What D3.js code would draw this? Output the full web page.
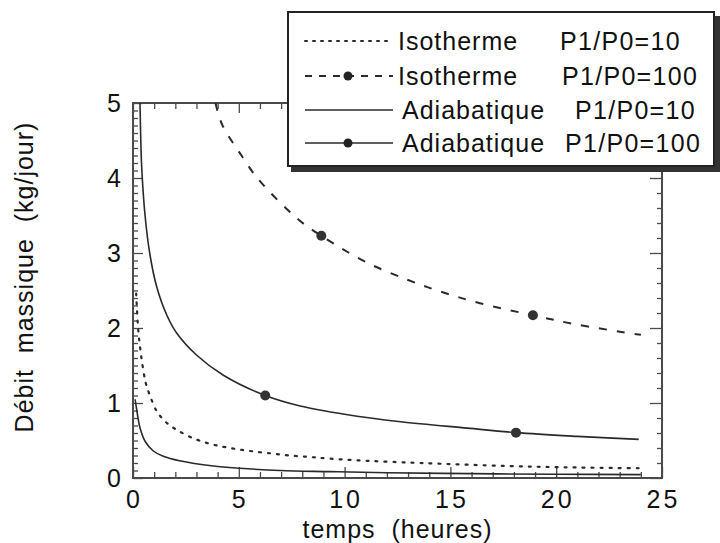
<!DOCTYPE html>
<html><head><meta charset="utf-8">
<script src="https://cdn.jsdelivr.net/npm/d3@7"></script>
<style>
body{margin:0;background:#fff;}
svg text{font-family:"Liberation Sans",Arial,Helvetica,sans-serif;fill:#111;white-space:pre;}
</style></head><body>
<svg id="c" width="720" height="543"></svg>
<script>
// ---- data ----
const xTicks = [0, 5, 10, 15, 20, 25];
const yTicks = [0, 1, 2, 3, 4, 5];
const xTitle = "temps  (heures)";
const yTitle = "Débit  massique  (kg/jour)";

const seriesNames = ["Isotherme", "Isotherme", "Adiabatique", "Adiabatique"];
const seriesRatios = ["P1/P0=10", "P1/P0=100", "P1/P0=10", "P1/P0=100"];

// Isotherme P1/P0=10 (dotted)
const isoP10 = [[0.15,2.46],[0.25,1.97],[0.4,1.6],[0.6,1.27],[0.8,1.1],[1.12,0.89],[1.43,0.78],[1.75,0.7],[2.14,0.63],[2.93,0.52],[3.72,0.45],[4.58,0.4],[5.53,0.36],[6.47,0.33],[7.42,0.3],[8.36,0.28],[9.2,0.26],[11,0.23],[13.6,0.2],[17.7,0.16],[21,0.14],[24,0.13]];
// Isotherme P1/P0=100 (dashed, markers)
const isoP100 = [[3.9,5.0],[4.2,4.72],[5.2,4.27],[5.9,3.99],[7.8,3.45],[8.9,3.23],[11,2.88],[13,2.64],[14.6,2.48],[16.4,2.33],[18.9,2.17],[20.9,2.05],[23.5,1.93],[24,1.91]];
const isoP100Marks = [[8.9,3.23],[18.9,2.17]];
// Adiabatique P1/P0=10 (solid)
const adiP10 = [[0.1,1.05],[0.17,0.92],[0.33,0.67],[0.57,0.49],[0.96,0.36],[1.43,0.29],[2.2,0.23],[3.8,0.16],[5.05,0.13],[6.95,0.1],[9.3,0.085],[12,0.07],[16,0.058],[20,0.05],[24,0.045]];
// Adiabatique P1/P0=100 (solid, markers)
const adiP100 = [[0.33,5.0],[0.36,4.6],[0.41,4.15],[0.57,3.5],[0.8,2.98],[1.12,2.55],[1.6,2.17],[2.07,1.93],[3.0,1.64],[4.27,1.37],[6.25,1.1],[7.9,0.96],[10,0.85],[12.65,0.75],[15.8,0.665],[18.1,0.605],[21,0.555],[23.9,0.515]];
const adiP100Marks = [[6.25,1.1],[18.1,0.605]];

// ---- layout ----
const svg = d3.select("#c");
const L = 133, R = 662, T = 103, B = 478;
const x = d3.scaleLinear().domain([0, 25]).range([L, R]);
const y = d3.scaleLinear().domain([0, 5]).range([B, T]);
const frameColor = "#4a4a4a";
const ink = "#2a2a2a";

svg.append("defs").append("clipPath").attr("id","clip")
  .append("rect").attr("x",L).attr("y",T).attr("width",R-L).attr("height",B-T);

// ticks (inside)
function tickAxis(gen, scale, vals, size, tr){
  const g = svg.append("g").attr("transform", tr)
    .call(gen(scale).tickValues(vals).tickSize(size).tickFormat(""));
  g.select(".domain").remove();
  g.selectAll(".tick line").attr("stroke", frameColor).attr("stroke-width", 1.3);
  return g;
}
const xMinor = d3.range(0, 26, 1).filter(v => v % 5 !== 0);
const yMinor = d3.range(0, 50, 1).map(v => v / 10).filter(v => Math.abs(v - Math.round(v)) > 1e-6);
const yMinorR = d3.range(0, 25, 1).map(v => v / 5).filter(v => Math.abs(v - Math.round(v)) > 1e-6);

tickAxis(d3.axisBottom, x, xMinor, -6, `translate(0,${B})`);
tickAxis(d3.axisBottom, x, xTicks, -11, `translate(0,${B})`);
tickAxis(d3.axisTop, x, xMinor, -6, `translate(0,${T})`);
tickAxis(d3.axisTop, x, xTicks, -10, `translate(0,${T})`);
tickAxis(d3.axisLeft, y, yMinor, -5, `translate(${L},0)`);
tickAxis(d3.axisLeft, y, yTicks, -10, `translate(${L},0)`);
tickAxis(d3.axisRight, y, yMinorR, -5, `translate(${R},0)`);
tickAxis(d3.axisRight, y, yTicks, -12, `translate(${R},0)`);

// frame
svg.append("rect").attr("x",L).attr("y",T).attr("width",R-L).attr("height",B-T)
  .attr("fill","none").attr("stroke",frameColor).attr("stroke-width",2);

// tick labels
svg.append("g").selectAll("text").data(xTicks).join("text")
  .attr("x", d => x(d) + 1.5).attr("y", 508)
  .attr("text-anchor","middle").attr("font-size",25).attr("letter-spacing",3)
  .text(d => d);
svg.append("g").selectAll("text").data(yTicks).join("text")
  .attr("x", 121).attr("y", d => y(d) + 9)
  .attr("text-anchor","end").attr("font-size",25)
  .text(d => d);

// axis titles
svg.append("text").attr("x",(L+R)/2).attr("y",538).attr("text-anchor","middle")
  .attr("font-size",25).attr("letter-spacing",1).text(xTitle);
svg.append("text").attr("transform",`translate(33,${277}) rotate(-90)`).attr("text-anchor","middle")
  .attr("font-size",25).attr("letter-spacing",1).text(yTitle);

// curves
const line = d3.line().x(d => x(d[0])).y(d => y(d[1])).curve(d3.curveCatmullRom.alpha(0.5));
const plot = svg.append("g").attr("clip-path","url(#clip)");
const styles = [
  {data: isoP10, dash: "2,7", w: 2.2, cap: "round"},
  {data: isoP100, dash: "8,10", w: 2, cap: "butt"},
  {data: adiP10, dash: null, w: 1.6, cap: "butt"},
  {data: adiP100, dash: null, w: 1.6, cap: "butt"}
];
styles.forEach(s => {
  plot.append("path").datum(s.data).attr("d", line)
    .attr("fill","none").attr("stroke",ink).attr("stroke-width",s.w)
    .attr("stroke-linecap",s.cap).attr("stroke-dasharray",s.dash);
});
plot.selectAll("circle.m").data(isoP100Marks.concat(adiP100Marks)).join("circle")
  .attr("cx", d => x(d[0])).attr("cy", d => y(d[1])).attr("r", 5).attr("fill","#333");

// legend
const lg = svg.append("g");
lg.append("rect").attr("x",291).attr("y",16).attr("width",429).attr("height",156).attr("fill","#333");
lg.append("rect").attr("x",288).attr("y",12).attr("width",426).attr("height",154)
  .attr("fill","#fff").attr("stroke","#222").attr("stroke-width",2);
const rowsY = [41, 76, 110, 143];
const nameX = [398, 398, 402, 402];
const ratioX = [560, 562, 575, 565];
const legStyles = [
  {dash: "2,6", w: 2, cap: "round", mark: false},
  {dash: "7,7", w: 2, cap: "butt", mark: true},
  {dash: null, w: 1.6, cap: "butt", mark: false},
  {dash: null, w: 1.6, cap: "butt", mark: true}
];
seriesNames.forEach((n, i) => {
  const yy = rowsY[i];
  const st = legStyles[i];
  lg.append("line").attr("x1",305).attr("x2",393).attr("y1",yy).attr("y2",yy)
    .attr("stroke",ink).attr("stroke-width",st.w).attr("stroke-linecap",st.cap)
    .attr("stroke-dasharray",st.dash);
  if (st.mark) lg.append("circle").attr("cx",348).attr("cy",yy).attr("r",4.5).attr("fill","#222");
  lg.append("text").attr("x",nameX[i]).attr("y",yy+9).attr("font-size",25).attr("letter-spacing",1).text(n);
  lg.append("text").attr("x",ratioX[i]).attr("y",yy+9).attr("font-size",25).attr("letter-spacing",1.3).text(seriesRatios[i]);
});
</script>
</body></html>
